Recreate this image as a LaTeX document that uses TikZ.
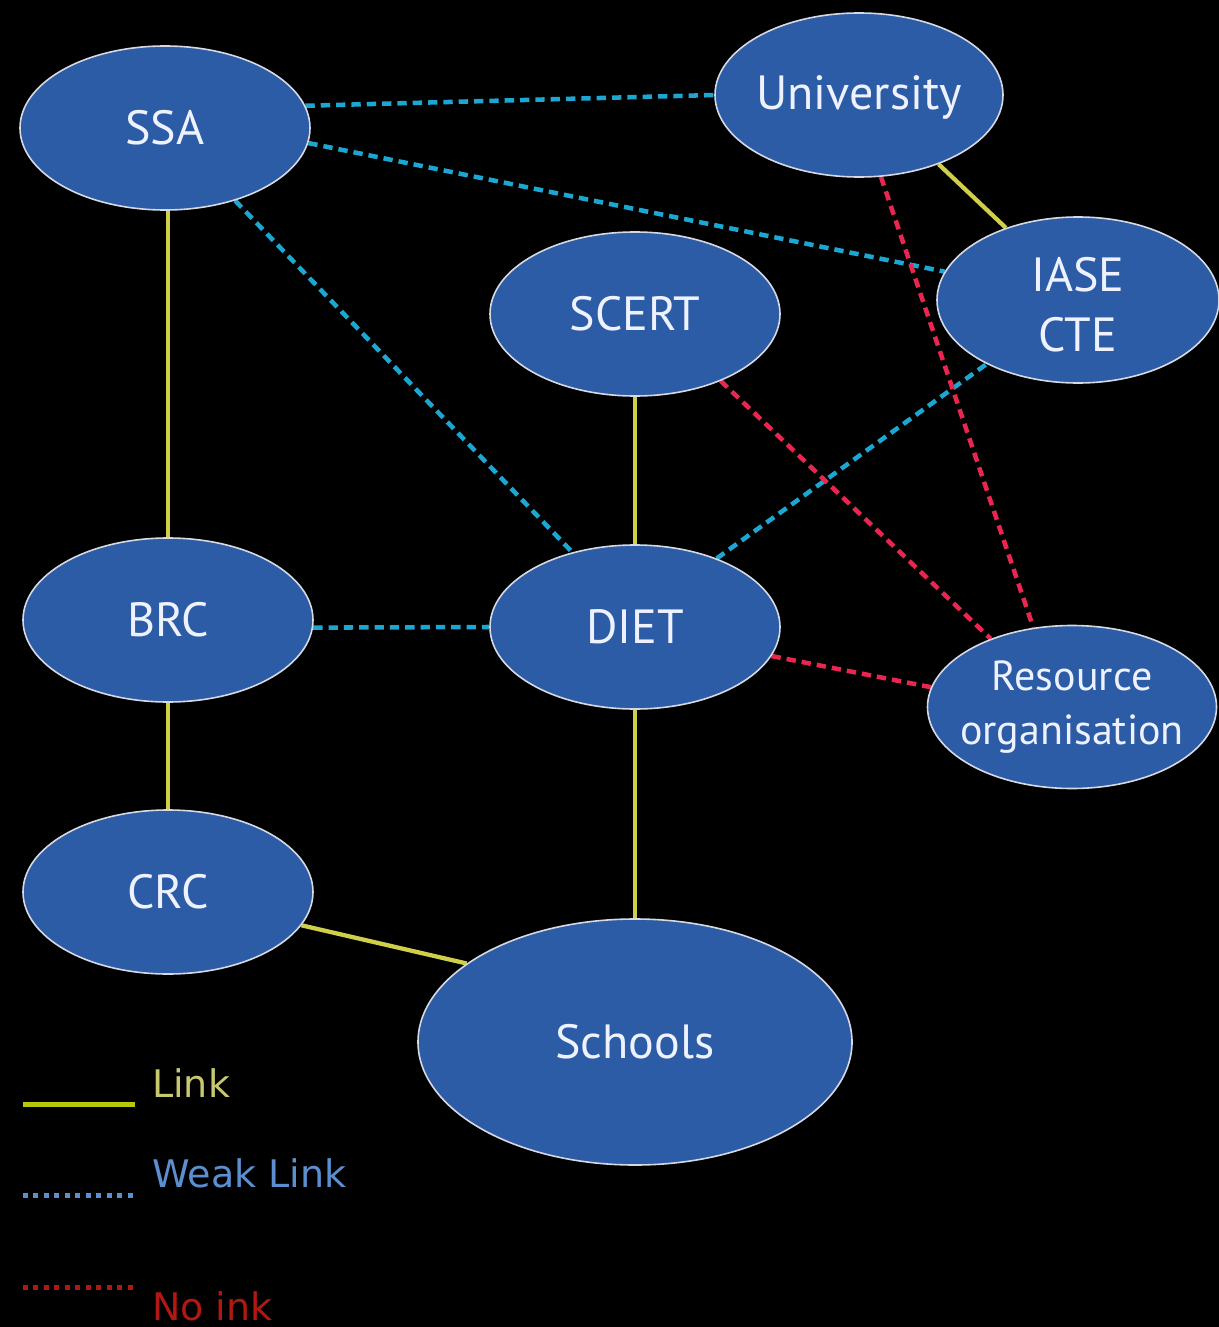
\documentclass[tikz,border=0pt]{standalone}
\usepackage{fontspec}
\setmainfont{PT Sans}
\newfontfamily\legfont{DejaVu Sans}
\usetikzlibrary{shapes.geometric}
\pgfdeclarelayer{bg}
\pgfsetlayers{bg,main}
\definecolor{nodefill}{HTML}{2D5CA6}
\definecolor{nodeedge}{HTML}{D6D8E4}
\definecolor{nodetext}{HTML}{EEF2FF}
\definecolor{linkcol}{HTML}{CFCF4A}
\definecolor{weakcol}{HTML}{1CA6D2}
\definecolor{nocol}{HTML}{E8264F}
\definecolor{leglink}{HTML}{B8C70A}
\definecolor{leglinktext}{HTML}{C8C870}
\definecolor{legweak}{HTML}{5B8FD0}
\definecolor{legno}{HTML}{B01812}
\tikzset{
  blob/.style={ellipse, fill=nodefill, draw=nodeedge, line width=1.2pt, inner sep=0pt, minimum width=217.5pt, minimum height=123pt},
  txt/.style={text=nodetext, font=\fontsize{36}{45}\selectfont, align=center, inner sep=0pt},
  smalltxt/.style={text=nodetext, font=\fontsize{31.5}{40.5}\selectfont, align=center, inner sep=0pt},
  linkline/.style={draw=linkcol, line width=3.2pt},
  weakline/.style={draw=weakcol, line width=3.4pt, dash pattern=on 7pt off 4.5pt},
  noline/.style={draw=nocol, line width=3.4pt, dash pattern=on 7pt off 4.5pt},
  legtext/.style={font=\legfont\fontsize{28.5}{35}\selectfont, anchor=base west, inner sep=0pt},
}
\begin{document}
\begin{tikzpicture}[x=0.75pt, y=-0.75pt]
\begin{pgfonlayer}{bg}
\fill[black] (0,0) rectangle (1219,1327);
\end{pgfonlayer}
\useasboundingbox (0,0) rectangle (1219,1327);

% nodes
\node[blob, label={[txt]center:SSA}] (ssa) at (165,128) {};
\node[blob, minimum width=216pt, label={[txt, yshift=-1.5pt]center:University}] (univ) at (859,95) {};
\node[blob, minimum width=211.5pt, minimum height=124.5pt, label={[txt, yshift=-3.5pt]center:IASE\\CTE}] (iase) at (1078,300) {};
\node[blob, label={[txt]center:SCERT}] (scert) at (635,314) {};
\node[blob, label={[txt]center:BRC}] (brc) at (168,620) {};
\node[blob, label={[txt]center:DIET}] (diet) at (635,627) {};
\node[blob, minimum width=216.75pt, minimum height=122.25pt, label={[smalltxt]center:Resource\\organisation}] (res) at (1072,707) {};
\node[blob, label={[txt]center:CRC}] (crc) at (168,892) {};
\node[blob, minimum width=325.5pt, minimum height=184.5pt, label={[txt]center:Schools}] (schools) at (635,1042) {};

% connectors (behind nodes)
\begin{pgfonlayer}{bg}
% links
\draw[linkline] (brc.north |- ssa.south) -- (brc.north);
\draw[linkline] (brc.south) -- (crc.north);
\draw[linkline] (scert.south) -- (diet.north);
\draw[linkline] (diet.south) -- (schools.north);
\draw[linkline] (crc.-14) -- (schools.155);
\draw[linkline] (univ.-41) -- (iase.135);
% weak links
\draw[weakline] (ssa.9) -- (univ.180);
\draw[weakline] (ssa.-6) -- (iase.168);
\draw[weakline] (ssa.-46) -- (diet.130);
\draw[weakline] (brc.-3) -- (diet.west);
\draw[weakline] (diet.40) -- (iase.215);
% no links
\draw[noline] (univ.-75) -- (res.116);
\draw[noline] (scert.-38) -- (res.140);
\draw[noline] (diet.-12) -- (res.172);
\end{pgfonlayer}

% legend
\coordinate (l1a) at (23,1104); \coordinate (l1b) at (135,1104);
\coordinate (l2a) at (23,1195); \coordinate (l2b) at (135,1195);
\coordinate (l3a) at (23,1287); \coordinate (l3b) at (135,1287);
\draw[draw=leglink, line width=3.75pt] (l1a) -- (l1b);
\draw[draw=legweak, line width=3.75pt, dash pattern=on 3.75pt off 4.1pt] (l2a) -- (l2b);
\draw[draw=legno, line width=3.75pt, dash pattern=on 3.75pt off 4.1pt] (l3a) -- (l3b);
\node[legtext, text=leglinktext] (tlink) at (152,1097) {Link};
\node[legtext, text=legweak] (tweak) at (152,1187) {Weak Link};
\node[legtext, text=legno] (tno) at (152,1320) {No ink};
\end{tikzpicture}
\end{document}
